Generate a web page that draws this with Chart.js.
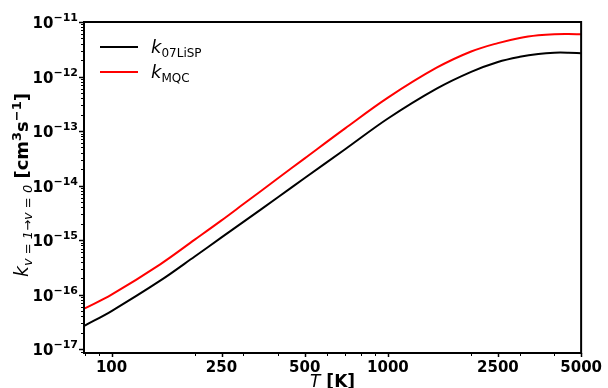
<!DOCTYPE html>
<html>
<head>
<meta charset="utf-8">
<script src="https://cdn.jsdelivr.net/npm/chart.js@4/dist/chart.umd.min.js"></script>
<style>
  html, body { margin: 0; padding: 0; background: #fff; }
  #wrap { width: 608px; height: 388px; position: relative; }
</style>
</head>
<body>
<div id="wrap"><canvas id="rateChart"></canvas></div>
<script>
// temperatures (K) and rate coefficients (cm^3 s^-1)
const temps = [80, 100, 150, 200, 250, 300, 400, 500, 700, 1000, 1500, 2000, 2500, 3000, 3500, 4000, 4500, 5000];
const k07LiSP = [2.7e-17, 5.0e-17, 1.8e-16, 5.0e-16, 1.12e-15, 2.16e-15, 6.1e-15, 1.38e-14, 4.64e-14, 1.7e-13, 6.0e-13, 1.22e-12, 1.85e-12, 2.3e-12, 2.6e-12, 2.74e-12, 2.74e-12, 2.68e-12];
const kMQC = [5.58e-17, 1.0e-16, 3.6e-16, 1.02e-15, 2.3e-15, 4.58e-15, 1.36e-14, 3.16e-14, 1.12e-13, 4.1e-13, 1.45e-12, 2.88e-12, 4.1e-12, 5.1e-12, 5.7e-12, 5.98e-12, 6.02e-12, 5.96e-12];

// axis ticks
const xTickLabels = [100, 250, 500, 1000, 2500, 5000];
const xMinorTicks = [80, 90, 100, 200, 250, 300, 400, 500, 600, 700, 800, 900, 1000, 2000, 2500, 3000, 4000, 5000];
const yExponents = [-17, -16, -15, -14, -13, -12, -11];

const tickFont = { family: 'DejaVu Sans', size: 15, weight: 'bold' };

// draw a run of text pieces: [text, font, dy]
function drawRun(ctx, parts, x, y) {
  let cx = x;
  parts.forEach(p => {
    ctx.font = p[1];
    ctx.fillText(p[0], cx, y + (p[2] || 0));
    cx += ctx.measureText(p[0]).width;
  });
  return cx - x;
}
function runWidth(ctx, parts) {
  let w = 0;
  parts.forEach(p => { ctx.font = p[1]; w += ctx.measureText(p[0]).width; });
  return w;
}

const decorations = {
  id: 'decorations',
  afterDraw(chart) {
    const { ctx, chartArea: a, scales: { x, y } } = chart;
    ctx.save();
    ctx.strokeStyle = '#000';
    ctx.fillStyle = '#000';

    // y ticks (major + minor)
    yExponents.concat([-18]).forEach(e => {
      for (let j = 1; j < 10; j++) {
        const v = j * Math.pow(10, e);
        if (v < y.min * 0.999 || v > y.max * 1.001) continue;
        const py = Math.round(y.getPixelForValue(v)) + 0.5;
        const len = j === 1 ? 5 : 3;
        ctx.lineWidth = j === 1 ? 1.5 : 1;
        ctx.beginPath(); ctx.moveTo(a.left - len, py); ctx.lineTo(a.left, py); ctx.stroke();
      }
    });
    // y tick labels: 10 with raised exponent
    ctx.textBaseline = 'alphabetic';
    yExponents.forEach(e => {
      const py = y.getPixelForValue(Math.pow(10, e));
      const parts = [['10', 'bold 15px "DejaVu Sans"', 0], ['\u2212' + Math.abs(e), 'bold 11px "DejaVu Sans"', -7]];
      const w = runWidth(ctx, parts);
      drawRun(ctx, parts, a.left - 6 - w, py + 6);
    });
    // x ticks
    xMinorTicks.forEach(v => {
      const px = Math.round(x.getPixelForValue(v)) + 0.5;
      const major = xTickLabels.includes(v);
      const len = major ? 4 : 3;
      ctx.lineWidth = major ? 1.5 : 1;
      ctx.beginPath(); ctx.moveTo(px, a.bottom); ctx.lineTo(px, a.bottom + len); ctx.stroke();
    });

    // frame
    ctx.lineWidth = 2;
    ctx.strokeRect(a.left, a.top, a.right - a.left, a.bottom - a.top);

    // legend
    const leg = [['07LiSP', '#000', 47], ['MQC', '#ff0000', 72]];
    leg.forEach(l => {
      ctx.strokeStyle = l[1];
      ctx.lineWidth = 2;
      ctx.beginPath(); ctx.moveTo(100, l[2]); ctx.lineTo(138, l[2]); ctx.stroke();
      drawRun(ctx, [
        ['k', 'italic 18px "DejaVu Sans"', 0],
        [l[0], '12px "DejaVu Sans"', 4]
      ], 151, l[2] + 6);
    });

    // x title
    const xt = [['T', 'italic 17px "DejaVu Sans"', 0], [' [K]', 'bold 17px "DejaVu Sans"', 0]];
    const xw = runWidth(ctx, xt);
    drawRun(ctx, xt, (a.left + a.right) / 2 - xw / 2, 387);

    // y title
    const yt = [
      ['k', 'italic 19px "DejaVu Sans"', 0],
      ['v = 1\u2192v = 0', 'italic 13px "DejaVu Sans"', 4],
      [' [cm', 'bold 18px "DejaVu Sans"', 0],
      ['3', 'bold 13px "DejaVu Sans"', -7],
      ['s', 'bold 18px "DejaVu Sans"', 0],
      ['\u22121', 'bold 13px "DejaVu Sans"', -7],
      [']', 'bold 18px "DejaVu Sans"', 0]
    ];
    const yw = runWidth(ctx, yt);
    ctx.translate(28, 185);
    ctx.rotate(-Math.PI / 2);
    drawRun(ctx, yt, -yw / 2, 0);
    ctx.restore();
  }
};

new Chart(document.getElementById('rateChart'), {
  type: 'line',
  data: {
    labels: temps,
    datasets: [{
      label: 'k07LiSP',
      data: temps.map((t, i) => ({ x: t, y: k07LiSP[i] })),
      borderColor: '#000000',
      borderWidth: 2,
      pointRadius: 0,
      tension: 0.35,
      fill: false
    }, {
      label: 'kMQC',
      data: temps.map((t, i) => ({ x: t, y: kMQC[i] })),
      borderColor: '#ff0000',
      borderWidth: 2,
      pointRadius: 0,
      tension: 0.35,
      fill: false
    }]
  },
  options: {
    responsive: true,
    maintainAspectRatio: false,
    animation: false,
    layout: { padding: { left: 0, top: 22, right: 24, bottom: 0 } },
    plugins: { legend: { display: false }, tooltip: { enabled: false } },
    scales: {
      x: {
        type: 'logarithmic',
        min: 79.5,
        max: 5000,
        grid: { display: false, drawTicks: false },
        border: { display: false },
        afterBuildTicks: s => { s.ticks = xTickLabels.map(v => ({ value: v })); },
        afterFit: s => { s.height = 35; },
        ticks: {
          autoSkip: false,
          maxRotation: 0,
          padding: 6,
          color: '#000',
          font: tickFont,
          callback: v => String(v)
        }
      },
      y: {
        type: 'logarithmic',
        min: 8.5e-18,
        max: 1e-11,
        grid: { display: false, drawTicks: false },
        border: { display: false },
        afterBuildTicks: s => { s.ticks = yExponents.map(e => ({ value: Math.pow(10, e) })); },
        afterFit: s => { s.width = 84; },
        ticks: { display: false }
      }
    }
  },
  plugins: [decorations]
});
</script>
</body>
</html>
